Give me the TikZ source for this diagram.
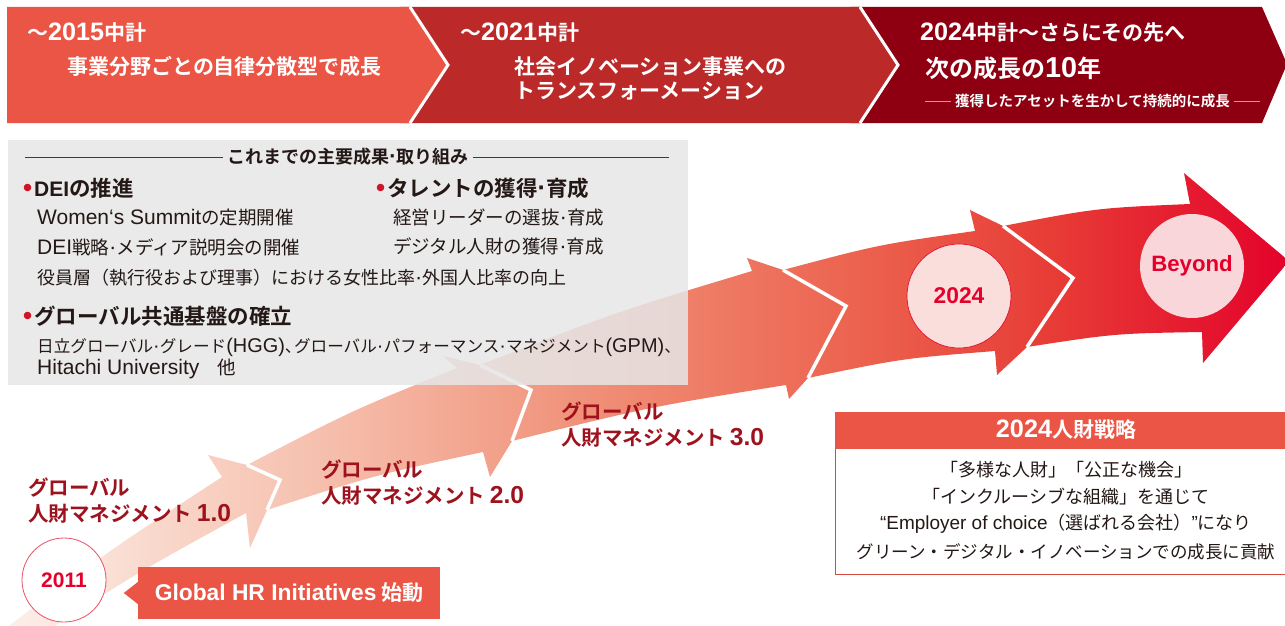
\documentclass[tikz,border=0pt]{standalone}
\usepackage{fontspec}
\setmainfont{Noto Sans CJK JP}[BoldFont={Noto Sans CJK JP Bold}]
\newfontfamily\latn{Liberation Sans}[Scale=1.2]
\usetikzlibrary{calc}
\definecolor{coral}{RGB}{234,85,69}
\definecolor{crimson}{RGB}{187,41,41}
\definecolor{deepred}{RGB}{142,0,17}
\definecolor{boxgray}{RGB}{230,230,230}
\definecolor{labelred}{RGB}{158,18,30}
\definecolor{hred}{RGB}{228,0,43}
\definecolor{txt}{RGB}{35,24,21}
\definecolor{bulred}{RGB}{205,20,40}
\definecolor{pinkfill}{RGB}{249,222,219}
\definecolor{pinkfillb}{RGB}{248,214,217}
\definecolor{circline}{RGB}{232,80,100}
\definecolor{boxline}{RGB}{214,74,64}
\definecolor{dashpink}{RGB}{215,150,150}
\definecolor{rulegray}{RGB}{60,60,60}
\definecolor{ga}{RGB}{253,240,235}
\definecolor{gb}{RGB}{249,217,205}
\definecolor{gc}{RGB}{245,187,168}
\definecolor{gd}{RGB}{240,142,118}
\definecolor{ge}{RGB}{236,100,80}
\definecolor{gf}{RGB}{231,60,54}
\definecolor{gg}{RGB}{228,3,43}
\pgfdeclarehorizontalshading{arrowgrad}{100bp}{color(0bp)=(ga); color(25bp)=(ga); color(30.8bp)=(gb); color(38.6bp)=(gc); color(48.3bp)=(gd); color(58.1bp)=(ge); color(65.9bp)=(gf); color(75bp)=(gg); color(100bp)=(gg)}
\newcommand\bul{\textcolor{bulred}{\latn •}\hspace{2pt}}
\newcommand\nd{{\latn ·}}
\newcommand\dashrule{\textcolor{dashpink}{\rule[0.3em]{26pt}{0.9pt}}}
\newcommand\bodylat[1]{{\latn\fontsize{17.5}{20}\selectfont #1}}
\begin{document}
\begin{tikzpicture}[x=1pt,y=-1pt,
  sep/.style={draw=white, line width=3pt},
  notch/.style={draw=white, line width=3.5pt, line join=miter},
  btop/.style={text=white, font=\fontsize{21}{23}\selectfont\bfseries, anchor=west, inner sep=0pt},
  bmain/.style={text=white, font=\fontsize{21}{23}\selectfont\bfseries, anchor=west, inner sep=0pt},
  bbig/.style={text=white, font=\fontsize{24}{26}\selectfont\bfseries, anchor=west, inner sep=0pt},
  bsmall/.style={text=white, font=\fontsize{14.5}{16}\selectfont\bfseries, anchor=west, inner sep=0pt},
  gtitle/.style={text=txt, font=\fontsize{18}{20}\selectfont\bfseries, inner sep=4pt},
  ghead/.style={text=txt, font=\fontsize{21.5}{23}\selectfont\bfseries, anchor=west, inner sep=0pt},
  gbody/.style={text=txt, font=\fontsize{18.5}{20}\selectfont, anchor=west, inner sep=0pt},
  lbl/.style={text=labelred, font=\fontsize{20.5}{26}\selectfont\bfseries, anchor=west, align=left, inner sep=0pt},
  yearc/.style={circle, minimum size=#1, inner sep=0pt, text=hred, font=\latn\fontsize{17.5}{20}\selectfont\bfseries},
  rule/.style={draw=rulegray, line width=0.8pt},
  sbody/.style={text=txt, font=\fontsize{18}{20}\selectfont, inner sep=0pt}
]
\useasboundingbox (0,0) rectangle (1285,626);
\clip (0,0) rectangle (1285,626);

% ---------------- top banner ----------------
\fill[deepred] (850,7) -- (1262,7) -- (1287,64) -- (1262,123) -- (850,123) -- cycle;
\fill[crimson] (400,7) -- (860,7) -- (898,65) -- (860,123) -- (400,123) -- cycle;
\draw[sep] (860,7) -- (898,65) -- (860,123);
\fill[coral] (7,7) -- (410,7) -- (448,65) -- (410,123) -- (7,123) -- cycle;
\draw[sep] (410,7) -- (448,65) -- (410,123);

\node[btop] (p1a) at (27,33) {〜{\latn 2015}中計};
\node[bmain] (p1b) at (67,66) {事業分野ごとの自律分散型で成長};
\node[btop] (p2a) at (460,33) {〜{\latn 2021}中計};
\node[bmain] (p2b) at (514,67) {社会イノベーション事業への};
\node[bmain] (p2c) at (514,91) {トランスフォーメーション};
\node[btop] (p3a) at (920,33) {{\latn 2024}中計〜さらにその先へ};
\node[bbig] (p3b) at (925,68) {次の成長の{\latn 10}年};
\node[bsmall] (p3c) at (925,101) {\dashrule\hspace{4pt}獲得したアセットを生かして持続的に成長\hspace{4pt}\dashrule};

% ---------------- arrows ----------------
\coordinate (a1u) at (-10,640); \coordinate (a1s1) at (222,477); \coordinate (a1b1) at (208,455);
\coordinate (a1b2) at (250,548); \coordinate (a1s2) at (246,513); \coordinate (a1l) at (15,652);
\coordinate (a2t1) at (247,465); \coordinate (a2v) at (280,480); \coordinate (a2t2) at (267,510);
\coordinate (a2s1) at (457,368); \coordinate (a2b1) at (443,356); \coordinate (a2b2) at (490,477); \coordinate (a2s2) at (483,452);
\coordinate (a3t1) at (480,365); \coordinate (a3v) at (531,390); \coordinate (a3t2) at (512,441);
\coordinate (a3s1) at (752,271); \coordinate (a3b1) at (747,258); \coordinate (a3b2) at (789,399); \coordinate (a3s2) at (786,385);
\coordinate (a4t1) at (783,270); \coordinate (a4v) at (846,306); \coordinate (a4t2) at (808,378);
\coordinate (a4s1) at (975,231); \coordinate (a4b1) at (970,210); \coordinate (a4b2) at (997,375); \coordinate (a4s2) at (995,351);
\coordinate (a5t1) at (1003,226); \coordinate (a5v) at (1073,278); \coordinate (a5t2) at (1027,347);
\coordinate (a5s1) at (1190,204); \coordinate (a5b1) at (1184,173); \coordinate (a5tip) at (1289,261); \coordinate (a5b2) at (1203,363); \coordinate (a5s2) at (1202,332);
\coordinate (a1tip) at (intersection of a1b1--a2t1 and a1b2--a2t2);
\coordinate (a2tip) at (intersection of a2b1--a3t1 and a2b2--a3t2);
\coordinate (a3tip) at (intersection of a3b1--a4t1 and a3b2--a4t2);
\coordinate (a4tip) at (intersection of a4b1--a5t1 and a4b2--a5t2);

\begin{scope}
\clip (a1u) .. controls ($(a1u)!.5!(a1s1)+(0,-6)$) .. (a1s1) -- (a1b1) -- (a1tip) -- (a1b2) -- (a1s2) .. controls ($(a1s2)!.5!(a1l)+(0,-6)$) .. (a1l) -- cycle;
\shade[shading=arrowgrad] (0,0) rectangle (1285,626);
\end{scope}
\begin{scope}
\clip (a2t1) .. controls ($(a2t1)!.5!(a2s1)+(0,-6)$) .. (a2s1) -- (a2b1) -- (a2tip) -- (a2b2) -- (a2s2) .. controls ($(a2s2)!.5!(a2t2)+(0,-6)$) .. (a2t2) -- (a2v) -- cycle;
\shade[shading=arrowgrad] (0,0) rectangle (1285,626);
\end{scope}
\draw[notch] (a2t1) -- (a2v) -- (a2t2);
\begin{scope}
\clip (a3t1) .. controls ($(a3t1)!.5!(a3s1)+(0,-6)$) .. (a3s1) -- (a3b1) -- (a3tip) -- (a3b2) -- (a3s2) .. controls ($(a3s2)!.5!(a3t2)+(0,-6)$) .. (a3t2) -- (a3v) -- cycle;
\shade[shading=arrowgrad] (0,0) rectangle (1285,626);
\end{scope}
\draw[notch] (a3t1) -- (a3v) -- (a3t2);
\begin{scope}
\clip (a4t1) .. controls ($(a4t1)!.5!(a4s1)+(0,-6)$) .. (a4s1) -- (a4b1) -- (a4tip) -- (a4b2) -- (a4s2) .. controls ($(a4s2)!.5!(a4t2)+(0,-6)$) .. (a4t2) -- (a4v) -- cycle;
\shade[shading=arrowgrad] (0,0) rectangle (1285,626);
\end{scope}
\draw[notch] (a4t1) -- (a4v) -- (a4t2);
\begin{scope}
\clip (a5t1) .. controls ($(a5t1)!.5!(a5s1)+(0,-7)$) .. (a5s1) -- (a5b1) -- (a5tip) -- (a5b2) -- (a5s2) .. controls ($(a5s2)!.5!(a5t2)+(0,-6)$) .. (a5t2) -- (a5v) -- cycle;
\shade[shading=arrowgrad] (0,0) rectangle (1285,626);
\end{scope}
\draw[notch] (a5t1) -- (a5v) -- (a5t2);

% ---------------- grey box ----------------
\fill[boxgray, opacity=0.86] (8,140) rectangle (688,385);
\node[gtitle] (gt) at (348,157) {これまでの主要成果\nd 取り組み};
\coordinate (gl) at (25,157); \coordinate (gr) at (669,157);
\draw[rule] (gl) -- (gt.west);
\draw[rule] (gt.east) -- (gr);
\node[ghead] (h1) at (23,188) {\bul{\latn\fontsize{17.5}{20}\selectfont DEI}の推進};
\node[gbody] (t1) at (37,218) {\bodylat{Women‘s Summit}の定期開催};
\node[gbody] (t2) at (37,247) {\bodylat{DEI}戦略\nd メディア説明会の開催};
\node[gbody, font=\fontsize{18}{20}\selectfont] (t3) at (37,278) {役員層（執行役および理事）における女性比率\nd 外国人比率の向上};
\node[ghead] (h2) at (376,188) {\bul タレントの獲得\nd 育成};
\node[gbody] (t4) at (393,217) {経営リーダーの選抜\nd 育成};
\node[gbody] (t5) at (393,246) {デジタル人財の獲得\nd 育成};
\node[ghead] (h3) at (23,316) {\bul グローバル共通基盤の確立};
\node[gbody, font=\fontsize{16.6}{20}\selectfont] (t6) at (37,347) {日立グローバル\nd グレード{\latn (HGG)}、\kern-.45em グローバル\nd パフォーマンス\nd マネジメント{\latn (GPM)}、};
\node[gbody] (t7) at (37,369) {\bodylat{Hitachi University}　他};

% ---------------- arrow labels ----------------
\node[lbl] (l1) at (28,501) {グローバル\\人財マネジメント {\latn 1.0}};
\node[lbl] (l2) at (321,483) {グローバル\\人財マネジメント {\latn 2.0}};
\node[lbl] (l3) at (561,425) {グローバル\\人財マネジメント {\latn 3.0}};

% ---------------- circles ----------------
\node[yearc=84pt, draw=circline, line width=0.8pt, fill=white] (c2011) at (64,580) {2011};
\node[yearc=104pt, draw=hred, line width=0.6pt, fill=pinkfill, font=\latn\fontsize{19}{22}\selectfont\bfseries] (c2024) at (959,296) {2024};
\node[yearc=104pt, fill=pinkfillb, font=\latn\fontsize{18.5}{22}\selectfont\bfseries] (cbey) at (1192,266) {Beyond};

% ---------------- Global HR box ----------------
\node[fill=coral, minimum width=302pt, minimum height=52pt, inner sep=0pt, text=white, font=\fontsize{21}{22}\selectfont\bfseries] (ghr) at (289,593) {{\latn\fontsize{19}{22}\selectfont Global HR Initiatives} 始動};
\fill[coral] (ghr.west) ++(0,-11) -- ++(-14,11) -- ++(14,11) -- cycle;

% ---------------- 2024 strategy box ----------------
\draw[boxline, line width=1pt, fill=white] (835,412) rectangle (1292,574);
\fill[coral] (835,412) rectangle (1292,449);
\node[text=white, font=\fontsize{21}{22}\selectfont\bfseries, inner sep=0pt] (sh) at (1066,430) {{\latn 2024}人財戦略};
\node[sbody] (s1) at (1066,470) {「多様な人財」「公正な機会」};
\node[sbody] (s2) at (1066,497) {「インクルーシブな組織」を通じて};
\node[sbody] (s3) at (1066,524) {{\latn\fontsize{15.8}{18}\selectfont “Employer of choice}（選ばれる会社）{\latn\fontsize{15.8}{18}\selectfont ”}になり};
\node[sbody, font=\fontsize{17.5}{20}\selectfont] (s4) at (1066,552) {グリーン・デジタル・イノベーションでの成長に貢献};
\end{tikzpicture}
\end{document}
